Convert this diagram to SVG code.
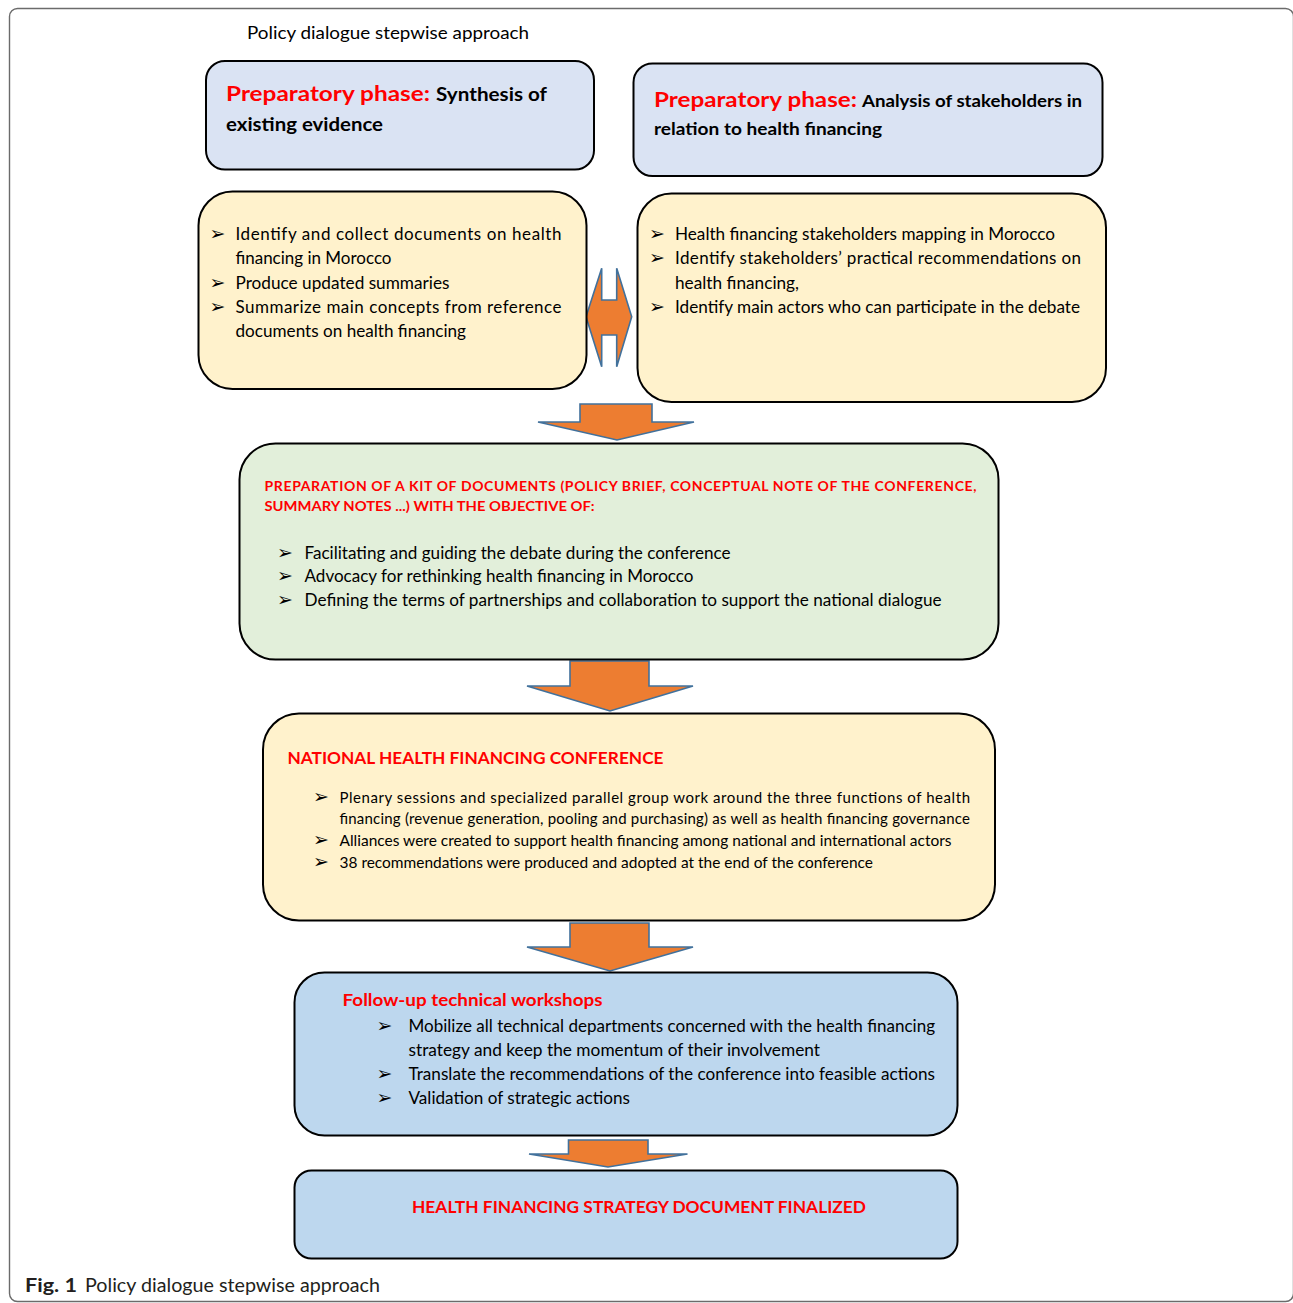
<svg xmlns="http://www.w3.org/2000/svg" width="1293" height="1303" viewBox="0 0 1293 1303">
<style>
.frame{fill:#fff;stroke:#6b6b6b;stroke-width:1.4}
.box{stroke:#000;stroke-width:2}
.blue1{fill:#dae3f3}
.yel{fill:#fff2cc}
.green{fill:#e2efda}
.blue2{fill:#bdd7ee}
.arrow{fill:#ed7d31;stroke:#41719c;stroke-width:1.6;stroke-linejoin:miter}
text{font-family:Lato,"Open Sans","Liberation Sans",sans-serif;fill:#000}
.red{fill:#ff0000;font-weight:bold}
.b{font-weight:bold}
.bul{font-family:"DejaVu Sans",sans-serif;font-size:19px}
.t17{font-size:17px}
.t16{font-size:16.3px}
.t15{font-size:15px}
.cap{fill:#231f20;font-size:18.5px}
</style>
<rect class="frame" x="9.5" y="8.5" width="1284" height="1293" rx="8"/>
<text x="247" y="39" font-size="17" textLength="282" lengthAdjust="spacingAndGlyphs">Policy dialogue stepwise approach</text>

<g id="connectors">
<polygon class="arrow" points="601.7,268.3 601.7,300 616.7,300 616.7,268.3 631.7,316.7 616.7,366.7 616.7,335 601.7,335 601.7,366.7 586,316.7"/>
<polygon class="arrow" points="580,404 652,404 652,422 694,422 617,440 538,422 580,422"/>
<polygon class="arrow" points="570,661 649,661 649,686 693,686 610,711 527,686 570,686"/>
<polygon class="arrow" points="570,923 649,923 649,947 693,947 610,971 527,947 570,947"/>
<polygon class="arrow" points="568.5,1140 648,1140 648,1154 687.5,1154 608,1167 529,1154 568.5,1154"/>
</g>

<g id="prep-synthesis">
<rect class="box blue1" x="206" y="61" width="388" height="108.5" rx="19"/>
<text class="red" x="226" y="101" font-size="20.5" textLength="204" lengthAdjust="spacingAndGlyphs">Preparatory phase:</text>
<text class="b" x="436" y="101" font-size="18.5" textLength="111" lengthAdjust="spacingAndGlyphs">Synthesis of</text>
<text class="b" x="226" y="131" font-size="18.5" textLength="157" lengthAdjust="spacingAndGlyphs">existing evidence</text>
</g>

<g id="prep-stakeholders">
<rect class="box blue1" x="633.5" y="63.5" width="469" height="112.5" rx="19"/>
<text class="red" x="654" y="107" font-size="20.5" textLength="203" lengthAdjust="spacingAndGlyphs">Preparatory phase:</text>
<text class="b" x="862" y="107" font-size="17" textLength="220" lengthAdjust="spacingAndGlyphs">Analysis of stakeholders in</text>
<text class="b" x="654" y="135" font-size="17" textLength="228" lengthAdjust="spacingAndGlyphs">relation to health financing</text>
</g>

<g id="evidence-tasks">
<rect class="box yel" x="198.5" y="191.5" width="388" height="197.5" rx="34"/>
<text class="bul" x="209.5" y="240">➢</text>
<text class="t17" x="235.5" y="240" textLength="326" lengthAdjust="spacing">Identify and collect documents on health</text>
<text class="t17" x="235.5" y="264" textLength="156" lengthAdjust="spacingAndGlyphs">financing in Morocco</text>
<text class="bul" x="209.5" y="288.5">➢</text>
<text class="t17" x="235.5" y="288.5" textLength="214" lengthAdjust="spacingAndGlyphs">Produce updated summaries</text>
<text class="bul" x="209.5" y="312.5">➢</text>
<text class="t17" x="235.5" y="312.5" textLength="326" lengthAdjust="spacing">Summarize main concepts from reference</text>
<text class="t17" x="235.5" y="336.5" textLength="230.5" lengthAdjust="spacingAndGlyphs">documents on health financing</text>
</g>

<g id="stakeholder-tasks">
<rect class="box yel" x="637.5" y="193.5" width="468.5" height="208.5" rx="34"/>
<text class="bul" x="649" y="240">➢</text>
<text class="t17" x="675" y="240" textLength="380" lengthAdjust="spacingAndGlyphs">Health financing stakeholders mapping in Morocco</text>
<text class="bul" x="649" y="264">➢</text>
<text class="t17" x="675" y="264" textLength="406" lengthAdjust="spacing">Identify stakeholders’ practical recommendations on</text>
<text class="t17" x="675" y="288.5" textLength="124" lengthAdjust="spacingAndGlyphs">health financing,</text>
<text class="bul" x="649" y="313">➢</text>
<text class="t17" x="675" y="313" textLength="405" lengthAdjust="spacingAndGlyphs">Identify main actors who can participate in the debate</text>
</g>

<g id="kit-of-documents">
<rect class="box green" x="239.5" y="443.5" width="759" height="216" rx="36"/>
<text class="red" x="264.5" y="491" font-size="14" textLength="712" lengthAdjust="spacing">PREPARATION OF A KIT OF DOCUMENTS (POLICY BRIEF, CONCEPTUAL NOTE OF THE CONFERENCE,</text>
<text class="red" x="264.5" y="511" font-size="14" textLength="330" lengthAdjust="spacingAndGlyphs">SUMMARY NOTES ...) WITH THE OBJECTIVE OF:</text>
<text class="bul" x="277" y="558.5">➢</text>
<text class="t16" x="304.5" y="558.5" textLength="426" lengthAdjust="spacingAndGlyphs">Facilitating and guiding the debate during the conference</text>
<text class="bul" x="277" y="581.5">➢</text>
<text class="t16" x="304.5" y="581.5" textLength="389" lengthAdjust="spacingAndGlyphs">Advocacy for rethinking health financing in Morocco</text>
<text class="bul" x="277" y="605.5">➢</text>
<text class="t16" x="304.5" y="605.5" textLength="637" lengthAdjust="spacingAndGlyphs">Defining the terms of partnerships and collaboration to support the national dialogue</text>
</g>

<g id="conference">
<rect class="box yel" x="263" y="713.5" width="732" height="207" rx="36"/>
<text class="red" x="287.5" y="763.5" font-size="17.2" textLength="376" lengthAdjust="spacingAndGlyphs">NATIONAL HEALTH FINANCING CONFERENCE</text>
<text class="bul" x="313" y="802.5" font-size="17">➢</text>
<text class="t15" x="339.5" y="802.5" textLength="630.5" lengthAdjust="spacing">Plenary sessions and specialized parallel group work around the three functions of health</text>
<text class="t15" x="339.5" y="824" textLength="630.5" lengthAdjust="spacing">financing (revenue generation, pooling and purchasing) as well as health financing governance</text>
<text class="bul" x="313" y="845.5" font-size="17">➢</text>
<text class="t15" x="339.5" y="845.5" textLength="612" lengthAdjust="spacingAndGlyphs">Alliances were created to support health financing among national and international actors</text>
<text class="bul" x="313" y="867.5" font-size="17">➢</text>
<text class="t15" x="339.5" y="867.5" textLength="533.5" lengthAdjust="spacingAndGlyphs">38 recommendations were produced and adopted at the end of the conference</text>
</g>

<g id="workshops">
<rect class="box blue2" x="294.5" y="972.5" width="663" height="163" rx="30"/>
<text class="red" x="342.5" y="1006" font-size="17.2" textLength="260" lengthAdjust="spacingAndGlyphs">Follow-up technical workshops</text>
<text class="bul" x="376.5" y="1032">➢</text>
<text class="t16" x="408.5" y="1032" textLength="526.5" lengthAdjust="spacingAndGlyphs">Mobilize all technical departments concerned with the health financing</text>
<text class="t16" x="408.5" y="1056" textLength="411.5" lengthAdjust="spacingAndGlyphs">strategy and keep the momentum of their involvement</text>
<text class="bul" x="376.5" y="1080">➢</text>
<text class="t16" x="408.5" y="1080" textLength="526.5" lengthAdjust="spacingAndGlyphs">Translate the recommendations of the conference into feasible actions</text>
<text class="bul" x="376.5" y="1103.5">➢</text>
<text class="t16" x="408.5" y="1103.5" textLength="221.5" lengthAdjust="spacingAndGlyphs">Validation of strategic actions</text>
</g>

<g id="strategy-finalized">
<rect class="box blue2" x="294.5" y="1170.5" width="663" height="88" rx="17"/>
<text class="red" x="412" y="1213" font-size="17.2" textLength="454" lengthAdjust="spacingAndGlyphs">HEALTH FINANCING STRATEGY DOCUMENT FINALIZED</text>
</g>

<text class="cap b" x="25" y="1292" textLength="52" lengthAdjust="spacingAndGlyphs">Fig. 1</text>
<text class="cap" x="85" y="1292" textLength="295" lengthAdjust="spacingAndGlyphs">Policy dialogue stepwise approach</text>
</svg>
